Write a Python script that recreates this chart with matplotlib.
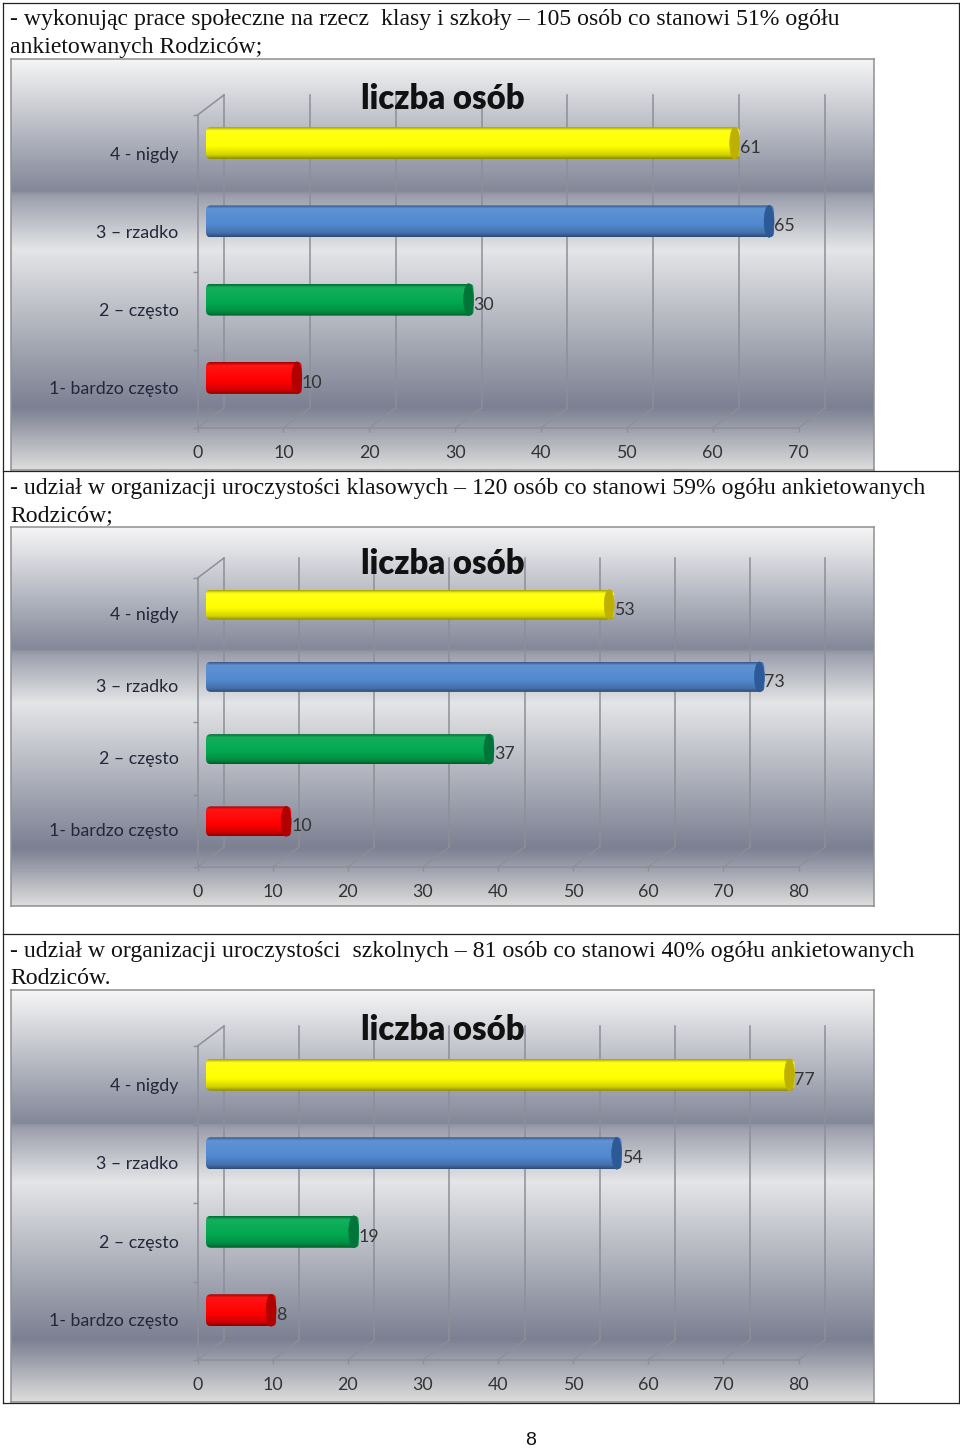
from __future__ import annotations

import numpy as np
import matplotlib
matplotlib.use("Agg")
from matplotlib import pyplot as plt
from matplotlib.colors import LinearSegmentedColormap, to_rgb
from matplotlib.lines import Line2D
from matplotlib.patches import Ellipse, FancyBboxPatch
from matplotlib.transforms import ScaledTranslation

W, H, DPI = 960, 1449, 100

categories = ["1- bardzo często", "2 – często", "3 – rzadko", "4 - nigdy"]
bar_colors = ["#ff0000", "#00a84f", "#5289d0", "#ffff00"]
cap_colors = ["#b00000", "#00753a", "#2c5a96", "#bdb000"]

values_1 = [10, 30, 65, 61]
values_2 = [10, 37, 73, 53]
values_3 = [8, 19, 54, 77]
ticks_1 = [0, 10, 20, 30, 40, 50, 60, 70]
ticks_2 = [0, 10, 20, 30, 40, 50, 60, 70, 80]
ticks_3 = [0, 10, 20, 30, 40, 50, 60, 70, 80]

chart_title = "liczba osób"
captions = [
    ("- wykonując prace społeczne na rzecz  klasy i szkoły – 105 osób co stanowi 51% ogółu", 25),
    ("ankietowanych Rodziców;", 53),
    ("- udział w organizacji uroczystości klasowych – 120 osób co stanowi 59% ogółu ankietowanych", 494),
    ("Rodziców;", 521),
    ("- udział w organizacji uroczystości  szkolnych – 81 osób co stanowi 40% ogółu ankietowanych", 957),
    ("Rodziców.", 984),
]

backdrop = LinearSegmentedColormap.from_list("backdrop", [
    (0.0, "#f5f5f5"), (0.32, "#838899"), (0.335, "#9da0ad"), (0.465, "#e4e5e7"),
    (0.85, "#7b8092"), (1.0, "#dcdcdc"),
])

plt.rcParams["font.family"] = ["Lato", "DejaVu Sans"]
fig = plt.figure(figsize=(W / DPI, H / DPI), dpi=DPI, facecolor="white")


def px_axes(left, top, right, bottom, **kw):
    return fig.add_axes([left / W, 1 - bottom / H, (right - left) / W, (bottom - top) / H], **kw)


def shift(dx, dy):
    return ScaledTranslation(dx / DPI, dy / DPI, fig.dpi_scale_trans)


def bar_gradient(color):
    base = np.array(to_rgb(color))
    light = base + (1 - base) * 0.08
    return LinearSegmentedColormap.from_list("bar", [
        (0.0, base * 0.65), (0.1, light), (0.6, base), (0.88, base * 0.82), (1.0, base * 0.55),
    ])


def draw_chart(values, ticks, frame, floor_y, wall_y, bar_h, bar_up, title_y):
    bg = px_axes(11, frame[0], 874, frame[1], zorder=1)
    bg.imshow(np.linspace(0, 1, 400).reshape(-1, 1), cmap=backdrop, aspect="auto", vmin=0, vmax=1)
    bg.set_xticks([])
    bg.set_yticks([])
    for s in bg.spines.values():
        s.set_color("#8f8f8f")
        s.set_linewidth(1.1)

    ax = px_axes(197.5, wall_y, 798.5, floor_y, zorder=2)
    ax.patch.set_alpha(0)
    xmax = ticks[-1]
    ax.set_xlim(0, xmax)
    ax.set_ylim(-0.5, 3.5)
    grid = "#8d8f98"
    x_px = 601 / xmax
    y_px = (floor_y - wall_y) / 4

    # back wall and floor diagonals
    back = ax.transData + shift(26.5, 20)
    for t in ticks:
        ax.add_line(Line2D([t, t], [-0.5, 3.5], color=grid, lw=1.1, transform=back, clip_on=False, zorder=1))
        ax.plot([t, t + 26.5 / x_px], [-0.5, -0.5 + 20 / y_px], color=grid, lw=0.9, clip_on=False, zorder=1)
    ax.plot([0, 26.5 / x_px], [3.5, 3.5 + 20 / y_px], color=grid, lw=1.1, clip_on=False, zorder=1)

    ax.spines[["top", "right"]].set_visible(False)
    ax.spines[["left", "bottom"]].set_color(grid)
    ax.spines[["left", "bottom"]].set_linewidth(1.1)
    ax.set_xticks(ticks)
    ax.set_xticklabels([str(t) for t in ticks], fontsize=12.8, color="#333333")
    ax.tick_params(axis="x", length=3, width=1, color=grid, pad=9)
    ax.set_yticks(range(4))
    ax.set_yticklabels(categories, fontsize=12.8, color="#24273a")
    ax.set_yticks(np.arange(-0.5, 4), minor=True)
    ax.tick_params(axis="y", which="major", length=0, pad=13.5)
    ax.tick_params(axis="y", which="minor", length=3.5, width=1, color=grid)
    for label in ax.get_yticklabels():
        label.set_transform(label.get_transform() + shift(0, 1))

    # cylinders sit between the front plane and the back wall
    over = ax.transData + shift(13.5, bar_up)
    h = bar_h / y_px
    r = 5 / x_px
    for i, v in enumerate(values):
        im = ax.imshow(np.linspace(0, 1, 64).reshape(-1, 1), cmap=bar_gradient(bar_colors[i]), aspect="auto",
                       extent=(-r, v + r, i - h / 2, i + h / 2), transform=over, zorder=3)
        box = FancyBboxPatch((-r, i - h / 2), v + 2 * r, h, boxstyle=f"round,pad=0,rounding_size={r}",
                             mutation_aspect=(1 / y_px) / (1 / x_px), transform=over, fc="none", ec="none")
        ax.add_patch(box)
        im.set_clip_path(box)
        ax.add_patch(Ellipse((v, i), 2 * r, h, transform=over, fc=cap_colors[i], ec=cap_colors[i], lw=0.4,
                             clip_on=False, zorder=4))
        ax.annotate(str(v), (v, i), xycoords=over, xytext=(5 / DPI * 72, -5 / DPI * 72),
                    textcoords="offset points", ha="left", va="center", fontsize=12.8, color="#333333",
                    annotation_clip=False, zorder=5)
    ax.set_xlim(0, xmax)
    ax.set_ylim(-0.5, 3.5)

    fig.text(443 / W, 1 - title_y / H, chart_title, ha="center", va="center", fontsize=23.6, fontweight="heavy",
             color="#111111", zorder=6)


draw_chart(values_1, ticks_1, (59, 470), 428, 115, 32, 11, 99)
draw_chart(values_2, ticks_2, (527, 906), 867, 578, 30, 9.5, 564)
draw_chart(values_3, ticks_3, (990, 1402), 1360, 1046, 32, 10.5, 1030)

# table rules of the page
for y in (3, 470.5, 934, 1402.5):
    fig.add_artist(Line2D([3 / W, 959 / W], [1 - y / H] * 2, color="#222222", lw=0.9))
for x in (3, 959):
    fig.add_artist(Line2D([x / W] * 2, [1 - 3 / H, 1 - 1402.5 / H], color="#222222", lw=0.9))

for text, baseline in captions:
    fig.text(10 / W, 1 - baseline / H, text, family=["Liberation Serif"], fontsize=17.14, color="#111111", va="baseline")
fig.text(531 / W, 1 - 1445 / H, "8", family=["Liberation Sans"], fontsize=14, color="#111111", ha="center", va="baseline")

fig.savefig("out.png", dpi=DPI)
